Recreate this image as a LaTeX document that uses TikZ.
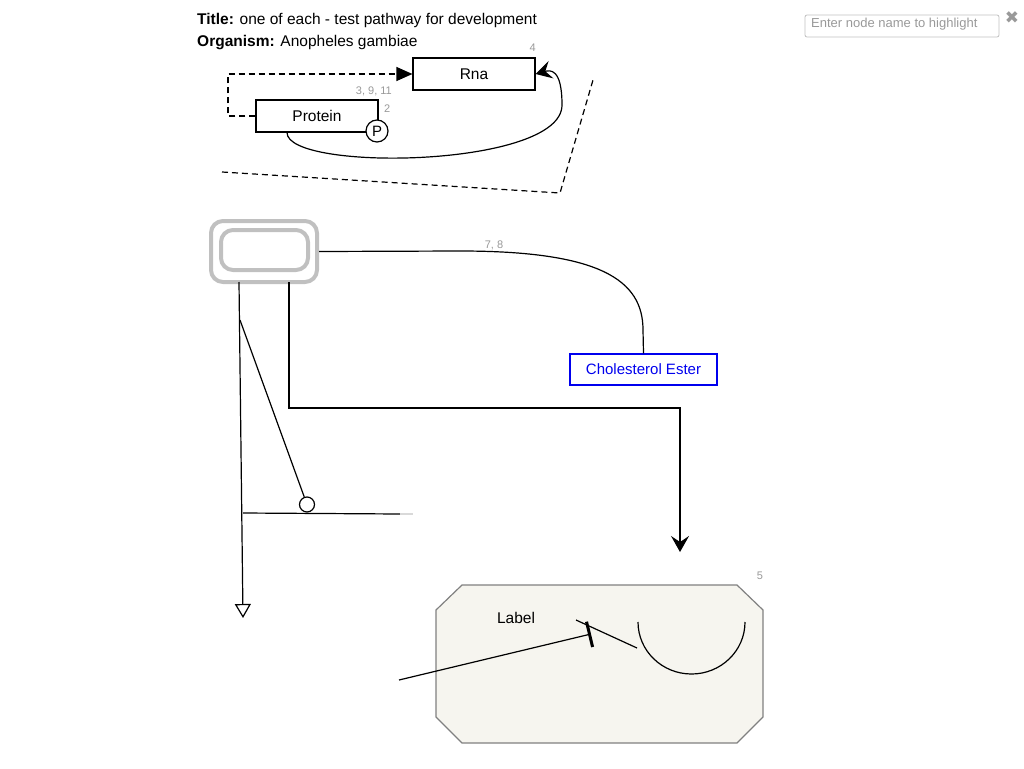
\documentclass[tikz,border=0pt]{standalone}
\usepackage{fontspec}
\setmainfont{Liberation Sans}
\newfontfamily\symfont{DejaVu Sans}
\usetikzlibrary{arrows.meta,calc}
\definecolor{lgray}{HTML}{C0C0C0}
\definecolor{tgray}{HTML}{999999}
\definecolor{octfill}{HTML}{F6F5EF}
\definecolor{octline}{HTML}{808080}
\definecolor{ceblue}{HTML}{0000EE}
\tikzset{
  txt/.style={font=\fontsize{15.5}{17}\selectfont, inner sep=0pt},
  small/.style={font=\fontsize{11}{12}\selectfont, text=tgray, inner sep=0pt},
  gbox/.style={draw, line width=1.2pt, minimum width=122pt, minimum height=32pt, inner sep=0pt, font=\fontsize{15.5}{17}\selectfont},
  conn/.style={line width=1.2pt},
  dashy/.style={line width=1.2pt, dash pattern=on 6pt off 4pt},
  grr/.style={draw=lgray, line width=4pt, rounded corners=12pt, inner sep=0pt},
  vtip/.tip={Stealth[length=16pt,width=18pt,inset=6pt]},
}
\begin{document}
\begin{tikzpicture}[x=1pt,y=-1pt]
\useasboundingbox (0,0) rectangle (1024,768);
% header
\node[txt, anchor=base west] (title) at (197,25) {\textbf{Title:} one of each - test pathway for development};
\node[txt, anchor=base west] (org) at (197,46) {\textbf{Organism:} Anopheles gambiae};
\node[draw=lgray, line width=0.8pt, rounded corners=2pt, minimum width=194pt, minimum height=22pt, inner sep=0pt] (search) at (902,26) {};
\node[anchor=west, inner sep=0pt, font=\fontsize{13}{15}\selectfont, text=tgray] (ph) at (811,24) {Enter node name to highlight};
\node[inner sep=0pt, font=\symfont\bfseries\fontsize{17}{17}\selectfont, text=tgray] (x) at (1012,18) {✖};
% top pathway
\node[gbox] (rna) at (474,74) {Rna};
\node[small, anchor=base east] (l4) at (536,52) {4};
\node[gbox] (prot) at (317,116) {Protein};
\node[small, anchor=base east] (l3) at (392,94) {3, 9, 11};
\node[small, anchor=base west] (l2) at (384,112) {2};
\node[circle, draw, fill=white, line width=1.2pt, minimum size=22pt, inner sep=0pt, font=\fontsize{15}{16}\selectfont] (p) at (377,131) {P};
\coordinate (d1) at (228,116);
\coordinate (d2) at (228,74);
\draw[dashy, -{Triangle[length=16pt,width=14pt]}] (prot.west) -- (d1) -- (d2) -- (rna.west);
\draw[conn, -vtip] ($(prot.south)+(-30,0)$) .. controls (287,172) and (562,168) .. (562,105) .. controls (562,68) and (550,70) .. (rna.east);
\coordinate (q1) at (222,172);
\coordinate (q2) at (560,193);
\coordinate (q3) at (593,80);
\draw[dashy] (q1) -- (q2) -- (q3);
% group
\node[grr, minimum width=106pt, minimum height=61pt] (grp) at (264,251.5) {};
\node[grr, minimum width=87pt, minimum height=40pt] (grpi) at (264.5,250) {};
\node[draw=ceblue, line width=1.2pt, text=ceblue, minimum width=147pt, minimum height=31pt, inner sep=0pt, font=\fontsize{15}{17}\selectfont] (ce) at (643.5,369.5) {Cholesterol Ester};
\node[small, anchor=base] (l78) at (494,248) {7, 8};
\draw[conn] (grp.east) -- (460,251) .. controls (600,251) and (643,280) .. (643,330) -- (ce.north);
% lines from group bottom
\coordinate (g1) at (289,282);
\coordinate (g1b) at (289,408);
\coordinate (g1c) at (680,408);
\coordinate (g1d) at (680,552);
\draw[conn, -vtip] (g1) -- (g1b) -- (g1c) -- (g1d);
\coordinate (g2) at (239,282);
\coordinate (g2b) at (243,618);
\draw[conn, -{Triangle[open,length=14pt,width=16pt]}] (g2) -- (g2b);
\node[circle, draw, line width=1.2pt, fill=white, minimum size=15pt, inner sep=0pt] (cir) at (307,504.5) {};
\coordinate (b1) at (240,320);
\draw[conn] (b1) -- (cir);
\coordinate (h1) at (243,513);
\coordinate (h2) at (400,514);
\coordinate (h3) at (413,514);
\draw[conn] (h1) -- (h2);
\draw[line width=1.2pt, draw=black!15] (h2) -- (h3);
% octagon
\draw[draw=octline, fill=octfill, line width=1.2pt] (462,585) -- (737,585) -- (763,610) -- (763,717) -- (737,743) -- (462,743) -- (436,717) -- (436,610) -- cycle;
\node[small, anchor=base] (l5) at (760,579) {5};
\node[txt] (lab) at (516,618) {Label};
\coordinate (t1) at (399,680);
\coordinate (t2) at (591,634);
\draw[conn, -{Bar[width=26pt,line width=3pt]}] (t1) -- (t2);
\coordinate (s1) at (576,620);
\coordinate (s2) at (637,648);
\draw[conn] (s1) -- (s2);
\draw[conn] (638,622) arc[start angle=180, end angle=360, x radius=53.5, y radius=-52];
\end{tikzpicture}
\end{document}
